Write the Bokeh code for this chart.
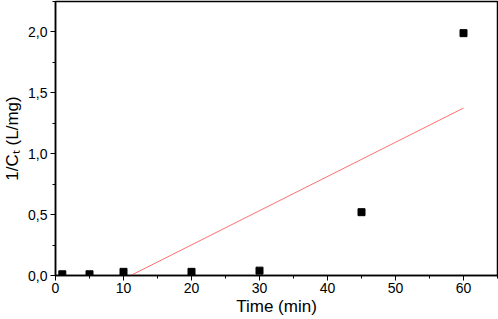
from bokeh.plotting import figure
from bokeh.models import FixedTicker, CustomJSTickFormatter, Range1d
from bokeh.embed import file_html
from bokeh.resources import INLINE

time_min = [1, 5, 10, 20, 30, 45, 60]
inv_ct = [0.01, 0.01, 0.03, 0.03, 0.04, 0.52, 1.99]
fit_x = [11.05, 60]
fit_y = [0.0, 1.375]
x_ticks = [0, 10, 20, 30, 40, 50, 60]
y_ticks = [0.0, 0.5, 1.0, 1.5, 2.0]

p = figure(width=498, height=319, output_backend="svg", toolbar_location=None,
           x_range=Range1d(0, 65), y_range=Range1d(0, 2.25),
           min_border_left=55, min_border_right=1, min_border_top=1, min_border_bottom=44)
p.background_fill_color = "white"
p.border_fill_color = "white"
p.outline_line_color = "black"
p.outline_line_width = 1.5
p.xgrid.visible = False
p.ygrid.visible = False

p.line(fit_x, fit_y, line_color="#ff7070", line_width=1)
p.scatter(time_min, inv_ct, marker="square", size=7, fill_color="black", line_color="black")

font = "Liberation Sans"
for ax in (p.xaxis[0], p.yaxis[0]):
    ax.axis_line_width = 1.5
    ax.axis_line_color = "black"
    ax.major_tick_line_color = "black"
    ax.minor_tick_line_color = "black"
    ax.major_tick_out = 5
    ax.major_tick_in = 0
    ax.minor_tick_out = 3
    ax.minor_tick_in = 0
    ax.major_label_text_font = font
    ax.major_label_text_font_size = "14px"
    ax.major_label_text_color = "black"
    ax.axis_label_text_font = font
    ax.axis_label_text_font_size = "17px"
    ax.axis_label_text_font_style = "normal"
    ax.axis_label_text_color = "black"

p.xaxis[0].ticker = FixedTicker(ticks=x_ticks, minor_ticks=[5, 15, 25, 35, 45, 55, 65])
p.yaxis[0].ticker = FixedTicker(ticks=y_ticks, minor_ticks=[0.25, 0.75, 1.25, 1.75, 2.25])
p.yaxis[0].formatter = CustomJSTickFormatter(code="return tick.toFixed(1).replace('.', ',');")
p.xaxis[0].axis_label = "Time (min)"
p.yaxis[0].axis_label = "1/C\u209c (L/mg)"
p.xaxis[0].major_label_standoff = 2
p.yaxis[0].major_label_standoff = 3
p.xaxis[0].axis_label_standoff = 1
p.yaxis[0].axis_label_standoff = 3

open("out.html", "w").write(file_html(p, INLINE))
